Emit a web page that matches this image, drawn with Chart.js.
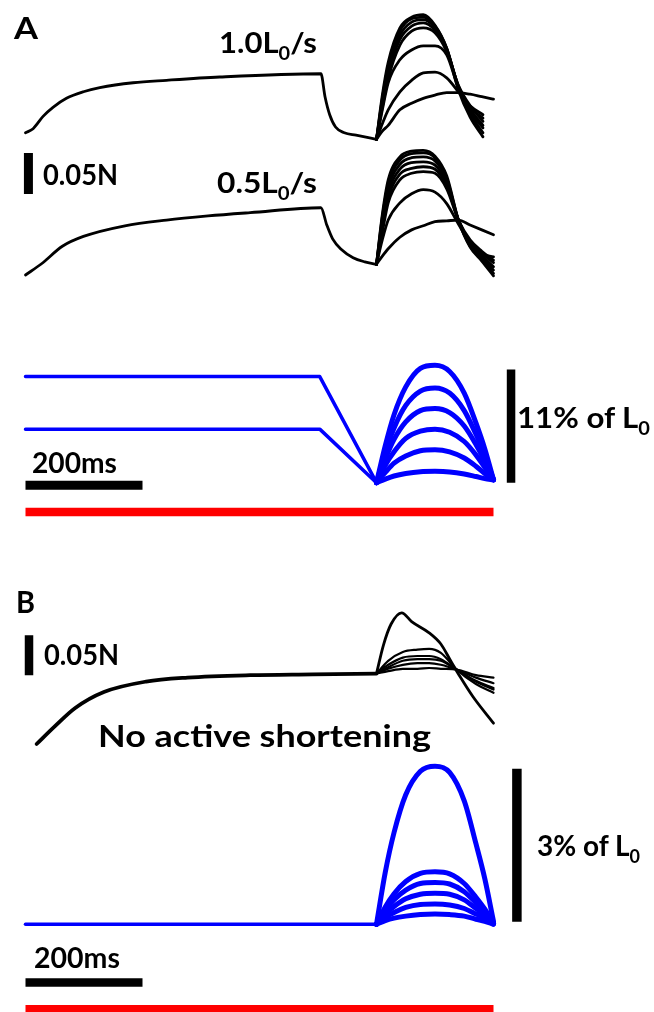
<!DOCTYPE html>
<html>
<head>
<meta charset="utf-8">
<script src="https://cdn.jsdelivr.net/npm/chart.js@4.4.1/dist/chart.umd.min.js"></script>
<style>
  html, body { margin: 0; padding: 0; background: #fff; }
  #wrap { position: relative; width: 654px; height: 1012px; overflow: hidden; }
  canvas { display: block; }
  .lbl { position: absolute; font-family: Lato, "Open Sans", sans-serif; font-weight: bold;
         line-height: 1; white-space: nowrap; color: #000; transform-origin: 0 0; }
  .lbl .sub { font-size: 18px; position: relative; top: 7px; }
</style>
</head>
<body>
<div id="wrap"><canvas id="fig" width="654" height="1012"></canvas></div>
<script>
// time in ms, force in mN (0.05 N bar = 50 mN), length change in % of L0

// A, 1.0 L0/s: rise of force, then active shortening from ~505 to 600 ms
var tA1 = [0, 13, 30, 47, 70, 99, 127, 184, 241, 332, 505, 512, 520, 530, 545, 565, 600];
var forceA1 = [21, 26, 41, 52, 63, 71, 76, 82, 85, 89, 93, 65, 43, 28, 21, 18, 13];
var tStretchA1 = [600, 610, 620, 640, 660, 680, 700, 720, 740, 760, 782];
var forceStretchA1 = [
  [13, 67, 107, 149, 162, 165, 152, 124, 73, 40, 16],
  [13, 63, 102, 145, 160, 162, 151, 124, 76, 44, 21],
  [13, 60, 98, 140, 156, 159, 149, 123, 77, 46, 27],
  [13, 56, 93, 135, 151, 155, 146, 122, 78, 50, 30],
  [13, 52, 87, 128, 145, 149, 143, 120, 79, 54, 35],
  [13, 49, 82, 110, 122, 127, 127, 116, 76, 52, 39],
  [13, 32, 49, 71, 85, 94, 95, 88, 71, 54, 43]
];
var tLongA1 = [600, 610, 620, 640, 660, 680, 700, 720, 740, 760, 780, 800];
var forceLongA1 = [13, 23, 30, 49, 57, 63, 67, 70, 70, 68, 65, 62];

// A, 0.5 L0/s
var tA2 = [0, 28, 63, 99, 170, 241, 312, 384, 505, 515, 525, 540, 560, 580, 600];
var forceA2 = [11, 25, 46, 58, 71, 78, 83, 87, 93, 72, 55, 42, 32, 27, 24];
var tStretchA2 = [600, 610, 620, 640, 660, 680, 700, 720, 740, 760, 780, 800];
var forceStretchA2 = [
  [24, 85, 127, 155, 162, 163, 156, 132, 78, 45, 28, 10],
  [24, 82, 122, 151, 159, 160, 154, 129, 78, 46, 30, 13],
  [24, 78, 117, 146, 154, 155, 150, 127, 78, 48, 33, 17],
  [24, 73, 111, 140, 148, 149, 145, 123, 78, 50, 35, 21],
  [24, 68, 105, 134, 141, 143, 140, 120, 78, 51, 38, 26],
  [24, 63, 99, 127, 135, 137, 135, 116, 78, 54, 40, 29],
  [24, 54, 78, 99, 110, 115, 112, 98, 73, 50, 37, 33],
  [24, 34, 43, 57, 66, 71, 76, 77, 78, 72, 66, 60]
];

// B, no active shortening
var tB = [19, 50, 85, 134, 206, 277, 384, 491, 600];
var forceB = [5, 27, 50, 70, 83, 88, 91, 92, 93];
var tPeakB = [600, 612, 625, 643, 660, 690, 710, 726, 743, 765, 800];
var forcePeakB = [93, 129, 155, 169, 158, 144, 130, 110, 89, 64, 31];
var tStretchB = [600, 620, 645, 670, 690, 710, 737, 770, 800];
var forceStretchB = [
  [93, 109, 120, 123, 124, 119, 98, 80, 69],
  [93, 104, 113, 115, 115, 111, 98, 83, 73],
  [93, 101, 109, 111, 111, 109, 98, 84, 75],
  [93, 99, 104, 106, 106, 104, 98, 88, 81],
  [93, 96, 99, 99, 100, 99, 98, 91, 88]
];

// length protocols
var tShortA = [0, 503, 600];
var lengthShort10 = [10.3, 10.3, 0];
var lengthShort05 = [5.2, 5.2, 0];
var tArch = [600, 615, 630, 650, 675, 700, 725, 750, 770, 785, 800];
var lengthArchA = [
  [0, 3.6, 6.6, 9.3, 11.1, 11.4, 10.8, 8.7, 5.8, 3.3, 0.3],
  [0, 2.9, 5.3, 7.5, 8.9, 9.2, 8.7, 7.0, 4.7, 2.7, 0.3],
  [0, 2.3, 4.2, 5.9, 7.0, 7.2, 6.8, 5.5, 3.7, 2.1, 0.3],
  [0, 1.7, 3.0, 4.3, 5.0, 5.2, 4.9, 4.0, 2.7, 1.5, 0.3],
  [0, 1.0, 1.9, 2.6, 3.1, 3.2, 3.0, 2.4, 1.6, 0.9, 0.3],
  [0, 0.35, 0.65, 0.9, 1.07, 1.1, 1.05, 0.85, 0.6, 0.4, 0.25]
];
var tFlatB = [0, 600];
var lengthFlatB = [0, 0];
var lengthArchB = [
  [0, 1.02, 1.8, 2.54, 3.0, 3.1, 2.98, 2.42, 1.58, 0.9, 0.06],
  [0, 0.34, 0.6, 0.84, 1.0, 1.03, 0.99, 0.8, 0.53, 0.3, 0.02],
  [0, 0.27, 0.48, 0.67, 0.8, 0.82, 0.79, 0.64, 0.42, 0.24, 0.02],
  [0, 0.2, 0.35, 0.5, 0.59, 0.61, 0.59, 0.48, 0.31, 0.18, 0.01],
  [0, 0.13, 0.23, 0.33, 0.39, 0.4, 0.38, 0.31, 0.2, 0.12, 0.01],
  [0, 0.07, 0.12, 0.16, 0.19, 0.2, 0.19, 0.16, 0.1, 0.06, 0]
];

// scale bars and stimulus
var forceBar = 50;      // mN
var timeBar = 200;      // ms
var lengthBarA = 11;    // % of L0
var lengthBarB = 3;     // % of L0
var stimulus = [0, 800];

var W = 654, H = 1012;

function pts(ts, vs) {
    return ts.map(function (t, i) { return {x: t, y: vs[i]}; });
}

function trace(ts, vs, axis, color, width) {
    return {
        data: pts(ts, vs), yAxisID: axis, borderColor: color, borderWidth: width,
        pointRadius: 0, fill: false, cubicInterpolationMode: 'monotone',
        borderJoinStyle: 'round', borderCapStyle: 'round'
    };
}

function bar(x0, x1, y0, y1, axis, color, width) {
    return {
        data: [{x: x0, y: y0}, {x: x1, y: y1}], yAxisID: axis, borderColor: color,
        borderWidth: width, pointRadius: 0, fill: false, tension: 0, borderCapStyle: 'butt'
    };
}

// y axis range so that value v sits at pixel px with k pixels per unit
function yRange(v, px, k) {
    return {type: 'linear', axis: 'y', display: false, min: v - (H - px) / k, max: v + px / k};
}

var datasets = [];
datasets.push(trace(tA1, forceA1, 'yA1', '#000', 2.8));
forceStretchA1.forEach(function (f) { datasets.push(trace(tStretchA1, f, 'yA1', '#000', 2.8)); });
datasets.push(trace(tLongA1, forceLongA1, 'yA1', '#000', 2.8));

datasets.push(trace(tA2, forceA2, 'yA2', '#000', 2.8));
forceStretchA2.forEach(function (f) { datasets.push(trace(tStretchA2, f, 'yA2', '#000', 2.8)); });

datasets.push(trace(tB, forceB, 'yB', '#000', 3.8));
datasets.push(trace(tPeakB, forcePeakB, 'yB', '#000', 2.8));
forceStretchB.forEach(function (f) { datasets.push(trace(tStretchB, f, 'yB', '#000', 2.2)); });

var shortA10 = trace(tShortA, lengthShort10, 'yLA', '#0000ff', 3.5);
var shortA05 = trace(tShortA, lengthShort05, 'yLA', '#0000ff', 3.5);
shortA10.cubicInterpolationMode = 'default';
shortA05.cubicInterpolationMode = 'default';
datasets.push(shortA10, shortA05);
lengthArchA.forEach(function (l) { datasets.push(trace(tArch, l, 'yLA', '#0000ff', 5)); });
datasets.push(trace(tFlatB, lengthFlatB, 'yLB', '#0000ff', 3.5));
lengthArchB.forEach(function (l) { datasets.push(trace(tArch, l, 'yLB', '#0000ff', 5)); });

// scale bars
datasets.push(bar(5, 5, -3.7, -3.7 - forceBar, 'yA1', '#000', 9));
datasets.push(bar(6, 6, 141, 141 - forceBar, 'yB', '#000', 8.5));
datasets.push(bar(830, 830, 0, lengthBarA, 'yLA', '#000', 8.5));
datasets.push(bar(840, 840, 0.05, 0.05 + lengthBarB, 'yLB', '#000', 9.5));
datasets.push(bar(0, timeBar, -0.25, -0.25, 'yLA', '#000', 9));
datasets.push(bar(0, timeBar, -1.14, -1.14, 'yLB', '#000', 8.5));
datasets.push(bar(stimulus[0], stimulus[1], -2.84, -2.84, 'yLA', '#ff0000', 8.5));
datasets.push(bar(stimulus[0], stimulus[1], -1.66, -1.66, 'yLB', '#ff0000', 8));

var pxPerMs = 0.585, zeroPx = 25.5;

var ctx = document.getElementById('fig').getContext('2d');
var fig = new Chart(ctx, {
    type: 'line',
    data: {datasets: datasets},
    options: {
        responsive: false,
        animation: false,
        devicePixelRatio: 1,
        layout: {padding: 0},
        plugins: {legend: {display: false}, tooltip: {enabled: false}},
        scales: {
            x: {type: 'linear', display: false, min: -zeroPx / pxPerMs, max: (W - zeroPx) / pxPerMs},
            yA1: yRange(0, 150, 0.82),
            yA2: yRange(0, 284, 0.82),
            yB: yRange(0, 748, 0.80),
            yLA: yRange(0, 482.7, 10.3),
            yLB: yRange(0, 924.3, 51)
        }
    }
});

// text labels, placed by baseline and stretched to the reference width
var labels = [
    {text: 'A', x: 14, y: 39, size: 31, w: 24},
    {text: '1.0L', sub: '0', rest: '/s', x: 219, y: 53, size: 28, w: 98},
    {text: '0.05N', x: 43, y: 185, size: 28, w: 75},
    {text: '0.5L', sub: '0', rest: '/s', x: 217, y: 193, size: 28, w: 100},
    {text: '11% of L', sub: '0', x: 517, y: 428, size: 28, w: 133},
    {text: '200ms', x: 32, y: 473, size: 28, w: 85},
    {text: 'B', x: 16, y: 613, size: 30, w: 19},
    {text: '0.05N', x: 44, y: 665, size: 28, w: 75},
    {text: 'No active shortening', x: 98, y: 747, size: 31, w: 333},
    {text: '3% of L', sub: '0', x: 537, y: 856, size: 28, w: 103},
    {text: '200ms', x: 34, y: 968, size: 28, w: 86}
];

var wrap = document.getElementById('wrap');
for (var lab of labels) {
    var d = document.createElement('div');
    d.className = 'lbl';
    d.style.fontSize = lab.size + 'px';
    d.style.left = lab.x + 'px';
    d.style.top = (lab.y - 0.887 * lab.size) + 'px';
    d.appendChild(document.createTextNode(lab.text));
    if (lab.sub) {
        var s = document.createElement('span');
        s.className = 'sub';
        s.textContent = lab.sub;
        d.appendChild(s);
    }
    if (lab.rest) d.appendChild(document.createTextNode(lab.rest));
    wrap.appendChild(d);
    var actual = d.getBoundingClientRect().width;
    if (actual > 0) d.style.transform = 'scaleX(' + (lab.w / actual).toFixed(3) + ')';
}
</script>
</body>
</html>
